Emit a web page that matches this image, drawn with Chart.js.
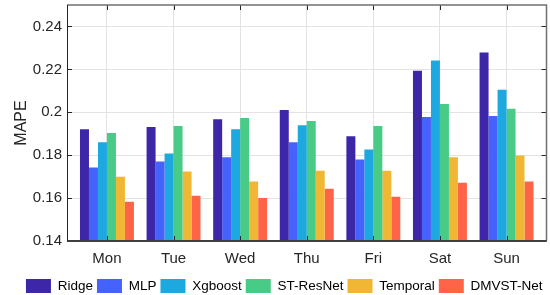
<!DOCTYPE html>
<html>
<head>
<meta charset="utf-8">
<script src="https://cdn.jsdelivr.net/npm/chart.js@4"></script>
<style>
  html, body { margin: 0; padding: 0; background: #fff; }
  #wrap { width: 550px; height: 295px; }
</style>
</head>
<body>
<div id="wrap"><canvas id="mapeChart" width="550" height="295"></canvas></div>
<script>
// Données
const days = ['Mon', 'Tue', 'Wed', 'Thu', 'Fri', 'Sat', 'Sun'];
const yTicks = [0.14, 0.16, 0.18, 0.2, 0.22, 0.24];
const ridge    = [0.1921, 0.1931, 0.1968, 0.2011, 0.1888, 0.2194, 0.2279];
const mlp      = [0.1743, 0.1771, 0.1790, 0.1860, 0.1780, 0.1978, 0.1983];
const xgboost  = [0.1860, 0.1808, 0.1921, 0.1940, 0.1827, 0.2241, 0.2105];
const stResNet = [0.1903, 0.1936, 0.1973, 0.1959, 0.1936, 0.2039, 0.2016];
const temporal = [0.1700, 0.1724, 0.1677, 0.1728, 0.1728, 0.1790, 0.1799];
const dmvstNet = [0.1583, 0.1611, 0.1601, 0.1644, 0.1606, 0.1672, 0.1677];

const seriesNames = ['Ridge', 'MLP', 'Xgboost', 'ST-ResNet', 'Temporal', 'DMVST-Net'];
const seriesData = [ridge, mlp, xgboost, stResNet, temporal, dmvstNet];
const seriesColors = ['#3E26A8', '#4662FC', '#1DA9E0', '#48CB86', '#F0B734', '#FF6448'];

const font = 'Arial, "Liberation Sans", Helvetica, sans-serif';

// Cadre + petites graduations vers l'intérieur (style MATLAB)
const boxPlugin = {
    id: 'boxPlugin',
    afterLayout(chart) {
        // la légende d'origine est un peu décalée vers la droite
        chart.legend.left += 11;
        chart.legend.right += 11;
    },
    afterDatasetsDraw(chart) {
        const { ctx, chartArea: a, scales } = chart;
        const tick = 5;
        ctx.save();
        // graduations
        ctx.strokeStyle = '#262626';
        ctx.lineWidth = 1;
        ctx.beginPath();
        scales.x.ticks.forEach(t => {
            const px = Math.round(scales.x.getPixelForValue(t.value)) + 0.5;
            ctx.moveTo(px, a.bottom); ctx.lineTo(px, a.bottom - tick);
            ctx.moveTo(px, a.top); ctx.lineTo(px, a.top + tick);
        });
        scales.y.ticks.forEach(t => {
            const py = Math.round(scales.y.getPixelForValue(t.value)) + 0.5;
            ctx.moveTo(a.left, py); ctx.lineTo(a.left + tick, py);
            ctx.moveTo(a.right, py); ctx.lineTo(a.right - tick, py);
        });
        ctx.stroke();
        // bordures haut et droite
        ctx.strokeStyle = '#707070';
        ctx.lineWidth = 1.5;
        ctx.beginPath();
        ctx.moveTo(a.left, a.top); ctx.lineTo(a.right, a.top); ctx.lineTo(a.right, a.bottom);
        ctx.stroke();
        // bordure bas
        ctx.strokeStyle = '#404040';
        ctx.lineWidth = 2;
        ctx.beginPath();
        ctx.moveTo(a.left, a.bottom); ctx.lineTo(a.right, a.bottom);
        ctx.stroke();
        // bordure gauche
        ctx.strokeStyle = '#262626';
        ctx.lineWidth = 1;
        ctx.beginPath();
        ctx.moveTo(a.left + 0.5, a.top); ctx.lineTo(a.left + 0.5, a.bottom);
        ctx.stroke();
        ctx.restore();
    }
};

const canvas = document.getElementById('mapeChart');
const ctx = canvas.getContext('2d');
new Chart(ctx, {
    type: 'bar',
    data: {
        datasets: seriesNames.map((name, k) => ({
            label: name,
            data: seriesData[k].map((v, i) => ({ x: i, y: v })),
            backgroundColor: seriesColors[k],
            borderWidth: 0,
            barPercentage: 1,
            categoryPercentage: 0.81
        }))
    },
    options: {
        responsive: false,
        animation: false,
        layout: { padding: { left: 0, right: 3.5, top: 5, bottom: -8 } },
        plugins: {
            tooltip: { enabled: false },
            legend: {
                position: 'bottom',
                labels: {
                    boxWidth: 25,
                    boxHeight: 14,
                    padding: 4,
                    color: '#000',
                    font: { family: font, size: 13.5 }
                }
            }
        },
        scales: {
            x: {
                type: 'linear',
                offset: false,
                min: -0.6,
                max: 6.6,
                afterBuildTicks: axis => { axis.ticks = days.map((d, i) => ({ value: i })); },
                afterFit: scale => { scale.height = 34; scale.paddingLeft = 0; scale.paddingRight = 0; },
                grid: { color: '#E3E3E3', drawTicks: false, offset: false },
                border: { display: false },
                ticks: {
                    autoSkip: false,
                    maxRotation: 0,
                    padding: 9,
                    color: '#262626',
                    font: { family: font, size: 15 },
                    callback: v => days[v]
                }
            },
            y: {
                min: 0.14,
                max: 0.25,
                afterBuildTicks: axis => { axis.ticks = yTicks.map(v => ({ value: v })); },
                afterFit: scale => { scale.width = 67; scale.paddingTop = 0; scale.paddingBottom = 0; },
                grid: { color: '#E3E3E3', drawTicks: false },
                border: { display: false },
                ticks: {
                    padding: 5,
                    color: '#262626',
                    font: { family: font, size: 15 },
                    callback: v => String(+v.toFixed(2))
                },
                title: {
                    display: true,
                    text: 'MAPE',
                    color: '#262626',
                    font: { family: font, size: 16 },
                    padding: { top: 12, bottom: 0 }
                }
            }
        }
    },
    plugins: [boxPlugin]
});
</script>
</body>
</html>
